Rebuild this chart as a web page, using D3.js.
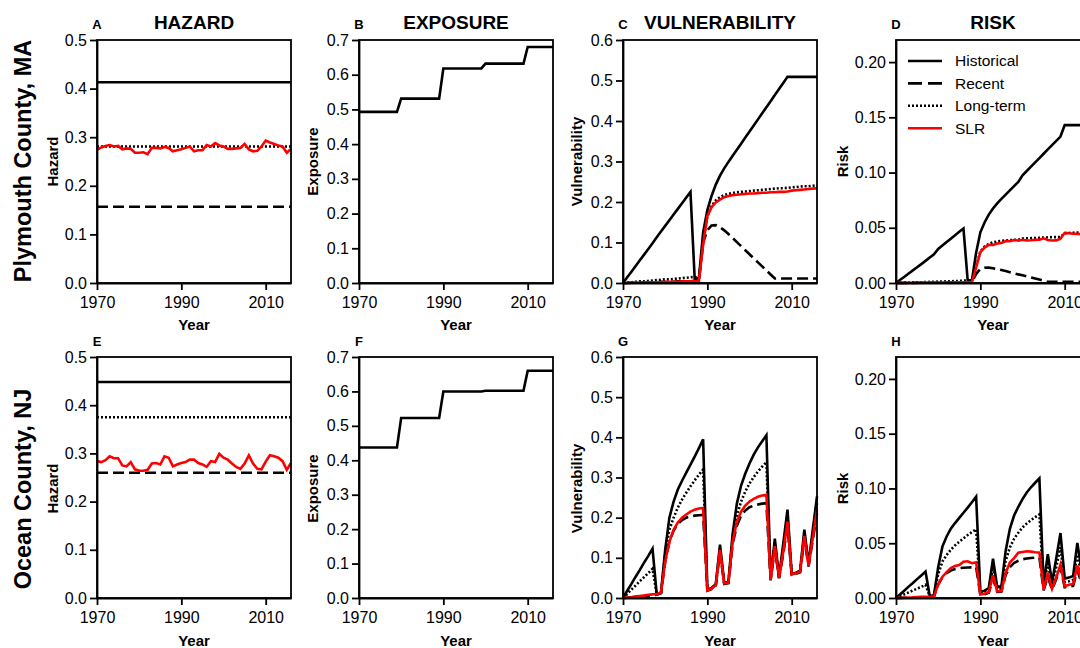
<!DOCTYPE html>
<html>
<head>
<meta charset="utf-8">
<script src="https://cdn.jsdelivr.net/npm/d3@7"></script>
<style>
body { margin: 0; background: #fff; }
svg { display: block; font-family: "Liberation Sans", Arial, Helvetica, sans-serif; }
</style>
</head>
<body>
<svg id="chart" width="1080" height="648"></svg>
<script>
// ---- data (1970 - 2016, one value per year) ----
var years = [1970,1971,1972,1973,1974,1975,1976,1977,1978,1979,
             1980,1981,1982,1983,1984,1985,1986,1987,1988,1989,
             1990,1991,1992,1993,1994,1995,1996,1997,1998,1999,
             2000,2001,2002,2003,2004,2005,2006,2007,2008,2009,
             2010,2011,2012,2013,2014,2015,2016];
var xTicks = [1970, 1990, 2010];
var scenarios = ["Historical", "Recent", "Long-term", "SLR"];

// Plymouth County, MA
var plyHazHist = 0.413, plyHazRecent = 0.157, plyHazLong = 0.281;
var plyHazSLR = [0.274,0.279,0.282,0.284,0.281,0.282,0.275,0.277,0.276,0.268,
                 0.268,0.269,0.265,0.278,0.278,0.277,0.280,0.278,0.271,0.273,
                 0.275,0.278,0.281,0.271,0.273,0.273,0.284,0.281,0.288,0.283,
                 0.281,0.276,0.276,0.277,0.278,0.286,0.275,0.271,0.272,0.281,
                 0.293,0.289,0.286,0.283,0.281,0.268,0.276];
var plyExp = [0.493,0.493,0.493,0.493,0.493,0.493,0.493,0.493,0.493,0.493,
              0.531,0.531,0.531,0.531,0.531,0.531,0.531,0.531,0.531,0.531,
              0.618,0.618,0.618,0.618,0.618,0.618,0.618,0.618,0.618,0.618,
              0.632,0.632,0.632,0.632,0.632,0.632,0.632,0.632,0.632,0.632,
              0.680,0.680,0.680,0.680,0.680,0.680,0.680];
var plyVulHist = [0.000,0.014,0.028,0.042,0.056,0.070,0.084,0.098,0.113,0.127,
                  0.141,0.155,0.169,0.183,0.197,0.211,0.225,0.010,0.012,0.125,
                  0.180,0.215,0.243,0.265,0.283,0.299,0.314,0.329,0.344,0.359,
                  0.374,0.389,0.404,0.419,0.434,0.449,0.464,0.479,0.494,0.509,
                  0.509,0.509,0.509,0.509,0.509,0.509,0.509];
var plyVulRecent = [0.000,0.000,0.001,0.001,0.001,0.002,0.002,0.002,0.002,0.003,
                    0.003,0.003,0.003,0.004,0.004,0.004,0.004,0.005,0.006,0.100,
                    0.130,0.142,0.143,0.138,0.130,0.121,0.111,0.101,0.091,0.081,
                    0.071,0.061,0.051,0.041,0.031,0.021,0.011,0.011,0.011,0.011,
                    0.011,0.011,0.011,0.011,0.011,0.011,0.011];
var plyVulLong = [0.000,0.001,0.002,0.003,0.004,0.004,0.005,0.006,0.007,0.008,
                  0.009,0.009,0.010,0.011,0.012,0.013,0.014,0.015,0.012,0.100,
                  0.165,0.190,0.204,0.212,0.217,0.220,0.222,0.224,0.225,0.226,
                  0.227,0.228,0.229,0.230,0.231,0.232,0.233,0.234,0.234,0.235,
                  0.236,0.237,0.238,0.239,0.239,0.240,0.241];
var plyVulSLR = [0.000,0.000,0.001,0.001,0.001,0.001,0.002,0.002,0.002,0.002,
                 0.003,0.003,0.003,0.003,0.004,0.004,0.004,0.005,0.005,0.095,
                 0.165,0.187,0.199,0.206,0.212,0.215,0.217,0.218,0.219,0.220,
                 0.221,0.221,0.222,0.223,0.223,0.224,0.224,0.225,0.225,0.226,
                 0.228,0.229,0.230,0.231,0.232,0.233,0.234];
var plyRiskHist = [0.0000,0.0029,0.0057,0.0086,0.0114,0.0143,0.0171,0.0200,0.0230,0.0259,
                   0.0309,0.0340,0.0371,0.0401,0.0432,0.0463,0.0493,0.0022,0.0026,0.0274,
                   0.0459,0.0548,0.0619,0.0675,0.0721,0.0762,0.0800,0.0838,0.0877,0.0915,
                   0.0975,0.1014,0.1053,0.1092,0.1131,0.1170,0.1209,0.1248,0.1287,0.1326,
                   0.1429,0.1429,0.1429,0.1429,0.1429,0.1429,0.1429];
var plyRiskRecent = [0.0000,0.0000,0.0001,0.0001,0.0001,0.0002,0.0002,0.0002,0.0002,0.0002,
                     0.0003,0.0003,0.0003,0.0003,0.0003,0.0003,0.0003,0.0004,0.0005,0.0083,
                     0.0126,0.0138,0.0139,0.0134,0.0126,0.0117,0.0108,0.0098,0.0088,0.0078,
                     0.0070,0.0060,0.0051,0.0041,0.0031,0.0021,0.0011,0.0011,0.0011,0.0011,
                     0.0012,0.0012,0.0012,0.0012,0.0012,0.0012,0.0012];
var plyRiskLong = [0.0000,0.0001,0.0003,0.0004,0.0006,0.0006,0.0007,0.0008,0.0010,0.0011,
                   0.0013,0.0013,0.0015,0.0016,0.0018,0.0019,0.0021,0.0022,0.0018,0.0149,
                   0.0286,0.0329,0.0354,0.0368,0.0376,0.0381,0.0385,0.0388,0.0390,0.0392,
                   0.0402,0.0404,0.0406,0.0408,0.0410,0.0411,0.0413,0.0415,0.0415,0.0417,
                   0.0451,0.0453,0.0455,0.0457,0.0457,0.0459,0.0461];
var plyRiskSLR = [0.0000,0.0000,0.0001,0.0001,0.0001,0.0001,0.0003,0.0003,0.0003,0.0003,
                  0.0004,0.0004,0.0004,0.0004,0.0006,0.0006,0.0006,0.0007,0.0007,0.0138,
                  0.0280,0.0321,0.0345,0.0344,0.0357,0.0362,0.0380,0.0378,0.0389,0.0384,
                  0.0392,0.0385,0.0387,0.0390,0.0391,0.0404,0.0389,0.0385,0.0386,0.0401,
                  0.0454,0.0450,0.0447,0.0445,0.0443,0.0425,0.0439];

// Ocean County, NJ
var ocnHazHist = 0.448, ocnHazRecent = 0.260, ocnHazLong = 0.375;
var ocnHazSLR = [0.284,0.282,0.286,0.294,0.290,0.290,0.275,0.273,0.282,0.267,
                 0.264,0.264,0.266,0.279,0.280,0.277,0.294,0.291,0.273,0.277,
                 0.280,0.282,0.287,0.287,0.280,0.277,0.272,0.284,0.282,0.299,
                 0.291,0.287,0.279,0.272,0.268,0.279,0.296,0.279,0.268,0.267,
                 0.283,0.296,0.294,0.291,0.284,0.266,0.280];
var ocnExp = [0.437,0.437,0.437,0.437,0.437,0.437,0.437,0.437,0.437,0.437,
              0.523,0.523,0.523,0.523,0.523,0.523,0.523,0.523,0.523,0.523,
              0.600,0.600,0.600,0.600,0.600,0.600,0.600,0.600,0.600,0.600,
              0.602,0.602,0.602,0.602,0.602,0.602,0.602,0.602,0.602,0.602,
              0.660,0.660,0.660,0.660,0.660,0.660,0.660];
var ocnVulHist = [0.000,0.018,0.035,0.053,0.070,0.088,0.105,0.123,0.009,0.013,
                  0.120,0.200,0.240,0.270,0.292,0.312,0.332,0.352,0.373,0.395,
                  0.020,0.025,0.034,0.133,0.038,0.040,0.160,0.235,0.280,0.310,
                  0.335,0.357,0.375,0.390,0.405,0.047,0.148,0.052,0.135,0.220,
                  0.060,0.063,0.068,0.170,0.085,0.170,0.253];
var ocnVulRecent = [0.000,0.001,0.002,0.003,0.004,0.005,0.006,0.007,0.008,0.012,
                    0.090,0.140,0.168,0.184,0.194,0.200,0.203,0.205,0.206,0.207,
                    0.018,0.022,0.031,0.115,0.035,0.037,0.135,0.180,0.205,0.218,
                    0.226,0.230,0.233,0.235,0.236,0.044,0.123,0.049,0.110,0.180,
                    0.057,0.060,0.064,0.148,0.078,0.145,0.210];
var ocnVulLong = [0.000,0.010,0.021,0.031,0.042,0.052,0.062,0.073,0.009,0.012,
                  0.110,0.170,0.200,0.225,0.245,0.262,0.278,0.293,0.307,0.320,
                  0.019,0.024,0.033,0.125,0.037,0.039,0.150,0.205,0.240,0.265,
                  0.285,0.301,0.315,0.327,0.338,0.046,0.138,0.051,0.125,0.205,
                  0.059,0.062,0.067,0.160,0.083,0.160,0.235];
var ocnVulSLR = [0.000,0.001,0.002,0.004,0.005,0.006,0.008,0.009,0.010,0.013,
                 0.090,0.140,0.170,0.188,0.200,0.208,0.215,0.220,0.223,0.224,
                 0.019,0.023,0.032,0.120,0.036,0.038,0.140,0.190,0.215,0.230,
                 0.240,0.247,0.252,0.255,0.257,0.045,0.129,0.050,0.115,0.190,
                 0.058,0.062,0.066,0.154,0.080,0.150,0.220];
var ocnRiskHist = [0.0000,0.0035,0.0069,0.0104,0.0137,0.0172,0.0206,0.0241,0.0018,0.0025,
                   0.0281,0.0469,0.0562,0.0633,0.0684,0.0731,0.0778,0.0825,0.0874,0.0925,
                   0.0054,0.0067,0.0091,0.0358,0.0102,0.0108,0.0430,0.0632,0.0753,0.0833,
                   0.0903,0.0963,0.1011,0.1052,0.1092,0.0127,0.0399,0.0140,0.0364,0.0593,
                   0.0177,0.0186,0.0201,0.0503,0.0251,0.0503,0.0748];
var ocnRiskRecent = [0.0000,0.0001,0.0002,0.0003,0.0005,0.0006,0.0007,0.0008,0.0009,0.0014,
                     0.0122,0.0190,0.0228,0.0250,0.0264,0.0272,0.0276,0.0279,0.0280,0.0282,
                     0.0028,0.0034,0.0048,0.0179,0.0055,0.0058,0.0211,0.0281,0.0320,0.0340,
                     0.0354,0.0360,0.0365,0.0368,0.0369,0.0069,0.0192,0.0077,0.0172,0.0282,
                     0.0098,0.0103,0.0110,0.0254,0.0134,0.0249,0.0360];
var ocnRiskLong = [0.0000,0.0016,0.0034,0.0051,0.0069,0.0085,0.0102,0.0120,0.0015,0.0020,
                   0.0216,0.0333,0.0392,0.0441,0.0480,0.0514,0.0545,0.0575,0.0602,0.0628,
                   0.0043,0.0054,0.0074,0.0281,0.0083,0.0088,0.0338,0.0461,0.0540,0.0596,
                   0.0644,0.0680,0.0711,0.0738,0.0763,0.0104,0.0312,0.0115,0.0282,0.0463,
                   0.0146,0.0153,0.0166,0.0396,0.0205,0.0396,0.0582];
var ocnRiskSLR = [0.0000,0.0001,0.0002,0.0005,0.0006,0.0008,0.0010,0.0011,0.0012,0.0015,
                  0.0124,0.0193,0.0237,0.0274,0.0293,0.0301,0.0331,0.0335,0.0318,0.0325,
                  0.0032,0.0039,0.0055,0.0207,0.0060,0.0063,0.0228,0.0324,0.0364,0.0413,
                  0.0420,0.0427,0.0423,0.0418,0.0415,0.0076,0.0230,0.0084,0.0186,0.0305,
                  0.0108,0.0121,0.0128,0.0296,0.0150,0.0263,0.0407];

// ---- layout ----
var colLeft = [97, 359, 623, 896];
var rowTop = [40, 357];
var rowH = [243, 241];
var plotW = 194;
var lineStyle = {
    "Historical": { color: "#000", dash: null },
    "Recent":     { color: "#000", dash: "11,5" },
    "Long-term":  { color: "#000", dash: "2,2" },
    "SLR":        { color: "#ff0000", dash: null }
};

var svg = d3.select("#chart");

function flat(v) { return years.map(function() { return v; }); }

function drawPanel(p) {
    var left = colLeft[p.col], top = rowTop[p.row], h = rowH[p.row];
    var x = d3.scaleLinear().domain([1970, 2016]).range([0, plotW]);
    var y = d3.scaleLinear().domain([0, p.yMax]).range([h, 0]);

    var g = svg.append("g").attr("transform", "translate(" + left + "," + top + ")");

    var line = d3.line()
        .x(function(d, i) { return x(years[i]); })
        .y(function(d) { return y(d); });

    p.series.forEach(function(s) {
        var st = lineStyle[s.name];
        g.append("path")
            .datum(s.values)
            .attr("d", line)
            .attr("fill", "none")
            .attr("stroke", st.color)
            .attr("stroke-width", 2.6)
            .attr("stroke-dasharray", st.dash)
            .attr("stroke-linejoin", "miter");
    });

    g.append("rect")
        .attr("width", plotW).attr("height", h)
        .attr("fill", "none").attr("stroke", "#000").attr("stroke-width", 1.8);

    var ya = g.append("g")
        .call(d3.axisLeft(y).tickValues(p.yTicks).tickFormat(d3.format(p.fmt))
              .tickSize(7).tickSizeOuter(0).tickPadding(3));
    var xa = g.append("g")
        .attr("transform", "translate(0," + h + ")")
        .call(d3.axisBottom(x).tickValues(xTicks).tickFormat(d3.format("d"))
              .tickSize(7).tickSizeOuter(0).tickPadding(7));
    [ya, xa].forEach(function(a) {
        a.selectAll("path, line").attr("stroke", "#000").attr("stroke-width", 1.8);
        a.selectAll("text").attr("fill", "#000").style("font-size", "16px");
    });

    // panel letter
    g.append("text")
        .attr("x", 0).attr("y", -11)
        .attr("text-anchor", "middle")
        .style("font-size", "13px").style("font-weight", "bold")
        .text(p.letter);

    if (p.title) {
        g.append("text")
            .attr("x", plotW / 2).attr("y", -11)
            .attr("text-anchor", "middle")
            .style("font-size", "19px").style("font-weight", "bold")
            .text(p.title);
    }

    g.append("text")
        .attr("x", plotW / 2).attr("y", h + (p.row === 0 ? 47 : 47.5))
        .attr("text-anchor", "middle")
        .style("font-size", "15px").style("font-weight", "bold")
        .text("Year");

    var yl = h / 2 + (p.row === 0 ? 0 : 11);
    g.append("text")
        .attr("transform", "translate(" + (-p.yLabelOff) + "," + yl + ") rotate(-90)")
        .attr("text-anchor", "middle")
        .style("font-size", "15px").style("font-weight", "bold")
        .text(p.yLabel);

    if (p.legend) {
        var lg = g.append("g").attr("transform", "translate(12,21)");
        scenarios.forEach(function(name, i) {
            var st = lineStyle[name];
            lg.append("line")
                .attr("x1", 0).attr("x2", 34)
                .attr("y1", i * 22.4).attr("y2", i * 22.4)
                .attr("stroke", st.color).attr("stroke-width", 2.6)
                .attr("stroke-dasharray", name === "Recent" ? "14,6" : st.dash);
            lg.append("text")
                .attr("x", 47).attr("y", i * 22.4).attr("dy", "0.35em")
                .style("font-size", "15.5px")
                .text(name);
        });
    }
}

var hazTicks = [0, 0.1, 0.2, 0.3, 0.4, 0.5];
var expTicks = [0, 0.1, 0.2, 0.3, 0.4, 0.5, 0.6, 0.7];
var vulTicks = [0, 0.1, 0.2, 0.3, 0.4, 0.5, 0.6];
var riskTicks = [0, 0.05, 0.10, 0.15, 0.20];

var regions = [
    { row: 0, name: "Plymouth County, MA", letters: ["A", "B", "C", "D"],
      haz: [flat(plyHazHist), flat(plyHazRecent), flat(plyHazLong), plyHazSLR],
      exp: plyExp,
      vul: [plyVulHist, plyVulRecent, plyVulLong, plyVulSLR],
      risk: [plyRiskHist, plyRiskRecent, plyRiskLong, plyRiskSLR] },
    { row: 1, name: "Ocean County, NJ", letters: ["E", "F", "G", "H"],
      haz: [flat(ocnHazHist), flat(ocnHazRecent), flat(ocnHazLong), ocnHazSLR],
      exp: ocnExp,
      vul: [ocnVulHist, ocnVulRecent, ocnVulLong, ocnVulSLR],
      risk: [ocnRiskHist, ocnRiskRecent, ocnRiskLong, ocnRiskSLR] }
];

function named(arrs) {
    return arrs.map(function(v, i) { return { name: scenarios[i], values: v }; });
}

regions.forEach(function(r) {
    var top = r.row === 0;
    drawPanel({ row: r.row, col: 0, letter: r.letters[0], title: top ? "HAZARD" : null,
                yMax: 0.5, yTicks: hazTicks, fmt: ".1f", yLabel: "Hazard", yLabelOff: 39,
                series: named(r.haz) });
    drawPanel({ row: r.row, col: 1, letter: r.letters[1], title: top ? "EXPOSURE" : null,
                yMax: 0.7, yTicks: expTicks, fmt: ".1f", yLabel: "Exposure", yLabelOff: 41,
                series: [{ name: "Historical", values: r.exp }] });
    drawPanel({ row: r.row, col: 2, letter: r.letters[2], title: top ? "VULNERABILITY" : null,
                yMax: 0.6, yTicks: vulTicks, fmt: ".1f", yLabel: "Vulnerability", yLabelOff: 41,
                series: named(r.vul) });
    drawPanel({ row: r.row, col: 3, letter: r.letters[3], title: top ? "RISK" : null,
                yMax: 0.22, yTicks: riskTicks, fmt: ".2f", yLabel: "Risk", yLabelOff: 48,
                series: named(r.risk), legend: top });

    // row label on the far left
    var cy = top ? 161 : 489;
    svg.append("text")
        .attr("transform", "translate(31," + cy + ") rotate(-90)")
        .attr("text-anchor", "middle")
        .style("font-size", "23.5px").style("font-weight", "bold")
        .text(r.name);
});
</script>
</body>
</html>
